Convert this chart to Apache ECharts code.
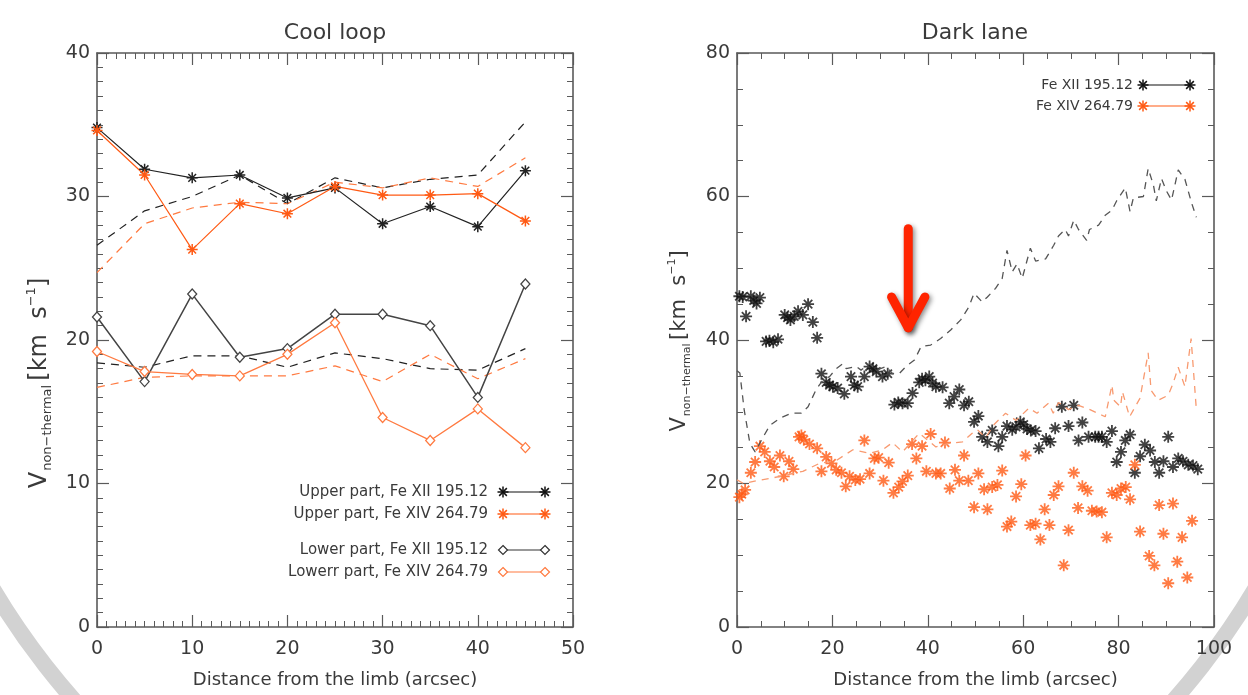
<!DOCTYPE html>
<html><head><meta charset="utf-8">
<script src="https://cdn.jsdelivr.net/npm/echarts@6/dist/echarts.min.js"></script>
<style>html,body{margin:0;padding:0;background:#fff}#c{width:1248px;height:695px}</style>
</head><body><div id="c"></div>
<script>
// ---------- Cool loop (left panel) ----------
const coolX = [0,5,10,15,20,25,30,35,40,45];
const upperFe12 = [34.8,31.9,31.3,31.5,29.9,30.6,28.1,29.3,27.9,31.8];
const upperFe14 = [34.6,31.5,26.3,29.5,28.8,30.7,30.1,30.1,30.2,28.3];
const upperFe12Dash = [26.6,29.0,30.0,31.5,29.5,31.3,30.6,31.2,31.5,35.2];
const upperFe14Dash = [24.7,28.1,29.2,29.6,29.5,31.0,30.6,31.3,30.7,32.7];
const lowerFe12 = [21.6,17.1,23.2,18.8,19.4,21.8,21.8,21.0,16.0,23.9];
const lowerFe14 = [19.2,17.8,17.6,17.5,19.0,21.2,14.6,13.0,15.2,12.5];
const lowerFe12Dash = [18.4,18.1,18.9,18.9,18.1,19.1,18.7,18.0,17.9,19.4];
const lowerFe14Dash = [16.7,17.4,17.5,17.5,17.5,18.2,17.1,19.0,17.3,18.7];
const coolLegend = ['Upper part, Fe XII 195.12','Upper part, Fe XIV 264.79','Lower part, Fe XII 195.12','Lowerr part, Fe XIV 264.79'];

// ---------- Dark lane (right panel) : [distance, velocity] ----------
const darkFe12 = [[0.5,46.1],[1.2,46.0],[1.9,43.3],[2.9,46.1],[3.5,45.5],[4.1,45.1],[4.8,45.9],[6.1,39.8],[6.8,39.9],[7.6,39.7],[8.6,40.1],[10.0,43.5],[10.6,43.1],[11.2,42.8],[12.0,43.3],[12.8,44.0],[13.8,43.5],[14.9,45.0],[15.9,42.5],[16.8,40.3],[17.7,35.3],[18.7,34.1],[19.4,33.7],[20.1,33.5],[21.1,33.3],[22.5,32.5],[23.9,34.9],[24.6,33.7],[25.3,33.5],[26.7,34.9],[27.8,36.3],[28.5,36.0],[29.2,35.6],[30.5,34.9],[31.6,35.3],[33.0,31.0],[33.8,31.3],[34.7,31.2],[35.8,31.2],[36.8,32.6],[38.2,34.1],[38.8,34.6],[39.5,34.4],[40.3,34.9],[41.0,34.0],[41.7,33.5],[43.1,33.4],[44.5,31.2],[45.5,32.1],[46.6,33.1],[47.6,30.9],[48.6,31.4],[49.7,28.6],[50.6,29.4],[51.4,26.5],[52.5,25.8],[53.5,27.4],[54.8,25.2],[55.6,26.5],[56.6,28.0],[57.7,27.5],[58.5,27.9],[59.4,28.6],[60.1,28.2],[60.8,27.6],[61.6,27.4],[62.6,27.3],[63.3,24.9],[64.8,26.2],[65.7,25.8],[66.7,27.7],[68.1,30.7],[69.5,28.0],[70.6,30.9],[71.6,26.0],[72.4,28.5],[73.7,26.5],[75.1,26.5],[75.8,26.5],[76.5,26.5],[77.5,25.8],[78.6,27.3],[79.6,23.0],[80.5,24.4],[81.4,26.0],[82.4,26.8],[83.4,21.5],[84.5,23.8],[85.5,25.4],[86.6,24.6],[87.6,23.0],[88.5,21.5],[89.4,23.1],[90.4,26.5],[91.4,22.3],[92.5,23.5],[93.5,23.1],[94.6,22.6],[95.6,22.5],[96.6,22.0]];
const darkFe14 = [[0.5,18.1],[1.0,18.5],[1.7,19.1],[2.9,21.5],[3.8,23.0],[4.8,25.2],[5.8,24.4],[6.9,23.1],[7.8,22.3],[9.0,23.9],[9.8,21.0],[10.9,23.1],[11.8,22.0],[13.0,26.5],[13.5,26.7],[14.0,26.1],[15.2,25.5],[16.8,24.9],[17.7,21.7],[18.7,23.7],[19.8,22.8],[20.8,21.9],[21.9,21.5],[22.8,19.6],[23.6,21.0],[24.8,20.5],[25.8,20.6],[26.7,26.0],[27.8,21.4],[28.8,23.5],[29.7,23.6],[30.7,20.4],[31.8,22.9],[32.8,18.7],[33.9,19.5],[34.7,20.3],[35.8,21.1],[36.7,25.5],[37.6,23.5],[38.8,25.2],[39.7,21.7],[40.6,26.9],[41.7,21.4],[42.7,21.4],[43.6,25.7],[44.6,19.3],[45.7,21.9],[46.6,20.4],[47.6,23.9],[48.5,20.4],[49.7,16.7],[50.6,21.4],[51.8,19.2],[52.5,16.4],[53.5,19.5],[54.6,19.8],[55.6,21.8],[56.6,14.0],[57.5,14.7],[58.5,18.2],[59.6,19.9],[60.5,23.9],[61.5,14.2],[62.6,14.4],[63.6,12.2],[64.5,16.4],[65.5,14.2],[66.4,18.4],[67.4,19.6],[68.5,8.6],[69.5,13.5],[70.6,21.5],[71.5,16.6],[72.4,19.6],[73.5,19.0],[74.4,16.2],[75.4,16.1],[76.5,16.0],[77.5,12.5],[78.6,18.7],[79.6,18.4],[80.5,19.3],[81.5,19.5],[82.4,17.8],[83.4,22.6],[84.5,13.3],[86.4,9.9],[87.5,8.6],[88.5,17.0],[89.4,13.0],[90.4,6.1],[91.4,17.2],[92.3,9.1],[93.3,12.5],[94.4,6.9],[95.4,14.8]];
const darkFe12Dash = [[0,35.7],[0.6,35.4],[1.5,30.3],[2.7,25.6],[3.8,24.4],[5.5,26.5],[6.9,28.1],[9.0,29.1],[11.4,29.8],[13.5,29.8],[14.9,30.7],[16.6,33.1],[18.0,34.4],[19.4,34.9],[20.8,36.0],[22.2,36.7],[22.9,36.0],[25.0,36.3],[26.0,35.8],[27.8,36.7],[29.2,35.8],[31.3,36.3],[32.6,35.3],[34.0,35.3],[35.4,36.3],[37.2,37.2],[38.6,39.1],[40.6,39.3],[42.7,40.2],[44.8,41.4],[46.9,42.8],[48.6,44.6],[49.7,46.5],[51.4,45.3],[52.5,46.0],[54.2,47.2],[55.6,48.6],[56.6,52.5],[57.7,49.5],[58.7,50.6],[59.8,48.6],[61.5,52.8],[62.6,51.0],[64.7,51.3],[66.4,53.2],[67.4,54.5],[68.8,55.4],[69.5,54.5],[70.6,56.7],[71.6,55.4],[73.3,53.9],[73.9,55.4],[75.8,56.0],[77.2,57.4],[78.6,58.1],[79.6,59.4],[81.4,61.2],[82.4,57.9],[83.1,59.8],[85.2,60.0],[86.2,63.9],[87.3,61.6],[87.9,59.4],[89.0,62.5],[90.0,60.8],[91.1,59.5],[92.5,63.7],[93.9,62.4],[95.3,59.1],[96.3,57.1]];
const darkFe14Dash = [[0,20.5],[1.4,20.0],[4.1,20.4],[6.9,20.7],[10.4,21.2],[13.8,21.7],[17.3,22.8],[20.8,23.2],[24.3,24.7],[27.8,24.2],[30.5,24.7],[32.6,25.7],[34.7,24.4],[38.2,27.0],[41.7,25.1],[44.5,25.6],[47.3,25.8],[49.3,27.0],[50.4,27.5],[52.1,26.4],[54.0,28.3],[56.3,29.8],[58.5,28.8],[61.2,30.5],[62.9,29.8],[65.3,31.2],[66.3,29.8],[67.4,31.3],[69.5,30.3],[71.6,30.9],[74.0,30.3],[77.2,29.3],[78.6,33.7],[79.0,31.6],[80.4,30.7],[80.8,32.8],[82.3,29.3],[84.5,31.9],[86.2,38.2],[86.8,33.0],[88.3,31.6],[90.4,32.3],[91.4,33.9],[92.5,36.2],[93.9,33.5],[95.2,40.2],[96.3,30.3]];
const darkLegend = ['Fe XII 195.12','Fe XIV 264.79'];
// arrow annotation (data coords): x, shaft top, tip, arm level, arm half-width
const arrowPos = [35.9, 55.5, 41.7, 46.0, 3.5];

const FONT = 'DejaVu Sans';
const TXT = '#3a3a3a';
const BLACK = '#111';
const ORANGE = '#ff5a14';
const ORANGE_L = '#ff7a40';
const AXC = '#5a5a5a';
const AST = 'path://M10,0L10,20M0,10L20,10M3,3L17,17M3,17L17,3';

const pairs = (xs, ys) => xs.map((x, i) => [x, ys[i]]);

function axis(gridIndex, position, min, max, interval, split, showLabel, name) {
  const isY = position === 'left' || position === 'right';
  return {
    type: 'value', gridIndex, position, min, max, interval,
    axisLine: { show: true, onZero: false, lineStyle: { color: AXC, width: 1.6 } },
    axisTick: { show: true, inside: true, length: 12, lineStyle: { color: AXC, width: 1.2 } },
    minorTick: { show: true, splitNumber: split, length: 6, lineStyle: { color: AXC, width: 1 } },
    splitLine: { show: false }, minorSplitLine: { show: false },
    axisLabel: { show: showLabel, fontFamily: FONT, fontSize: 19, color: TXT, margin: isY ? 7 : 13 },
    name: name || '', nameLocation: 'middle', nameGap: 44,
    nameTextStyle: { fontFamily: FONT, fontSize: 18, color: TXT }
  };
}

function lineSeries(data, color, symbol, dashed, width) {
  const s = {
    type: 'line', xAxisIndex: 0, yAxisIndex: 0, data, z: 3,
    lineStyle: { color, width: width || 1.3, type: dashed ? [8, 6] : 'solid' },
    symbol: symbol || 'none', showSymbol: !!symbol, silent: true
  };
  if (symbol === AST) { s.symbolSize = 11; s.itemStyle = { color, borderColor: color, borderWidth: 1.5 }; }
  else if (symbol === 'diamond') { s.symbolSize = [9, 10]; s.itemStyle = { color: '#fff', borderColor: color, borderWidth: 1.3 }; }
  return s;
}

const chart = echarts.init(document.getElementById('c'), null, { renderer: 'canvas' });

const option = {
  animation: false,
  backgroundColor: '#fff',
  grid: [
    { left: 97, top: 53, width: 476, height: 574 },
    { left: 737, top: 53, width: 477, height: 574 }
  ],
  xAxis: [
    axis(0, 'bottom', 0, 50, 10, 10, true, 'Distance from the limb (arcsec)'),
    axis(0, 'top', 0, 50, 10, 10, false),
    axis(1, 'bottom', 0, 100, 20, 4, true, 'Distance from the limb (arcsec)'),
    axis(1, 'top', 0, 100, 20, 4, false)
  ],
  yAxis: [
    axis(0, 'left', 0, 40, 10, 10, true),
    axis(0, 'right', 0, 40, 10, 10, false),
    axis(1, 'left', 0, 80, 20, 4, true),
    axis(1, 'right', 0, 80, 20, 4, false)
  ],
  series: [
    lineSeries(pairs(coolX, upperFe12Dash), '#222', null, true, 1.2),
    lineSeries(pairs(coolX, upperFe14Dash), ORANGE_L, null, true, 1.2),
    lineSeries(pairs(coolX, lowerFe12Dash), '#222', null, true, 1.2),
    lineSeries(pairs(coolX, lowerFe14Dash), ORANGE_L, null, true, 1.2),
    lineSeries(pairs(coolX, upperFe12), '#222', AST, false, 1.2),
    lineSeries(pairs(coolX, upperFe14), ORANGE, AST, false, 1.2),
    lineSeries(pairs(coolX, lowerFe12), '#444', 'diamond', false, 1.5),
    lineSeries(pairs(coolX, lowerFe14), ORANGE_L, 'diamond', false, 1.3),
    {
      type: 'line', xAxisIndex: 2, yAxisIndex: 2, data: darkFe12Dash, symbol: 'none', silent: true,
      lineStyle: { color: '#555', width: 1.3, type: [7, 6] }
    },
    {
      type: 'line', xAxisIndex: 2, yAxisIndex: 2, data: darkFe14Dash, symbol: 'none', silent: true,
      lineStyle: { color: '#f89a70', width: 1.3, type: [7, 6] }
    },
    {
      type: 'scatter', xAxisIndex: 2, yAxisIndex: 2, data: darkFe12, symbol: AST, symbolSize: 12, silent: true,
      itemStyle: { color: BLACK, borderColor: BLACK, borderWidth: 1.8 }
    },
    {
      type: 'scatter', xAxisIndex: 2, yAxisIndex: 2, data: darkFe14, symbol: AST, symbolSize: 12, silent: true,
      itemStyle: { color: ORANGE, borderColor: ORANGE, borderWidth: 1.8 }
    }
  ]
};
chart.setOption(option);

// ---------- decorations ----------
function asterisk(x, y, r, color, w) {
  const d = r * 0.7;
  return {
    type: 'group', children: [
      { type: 'line', shape: { x1: x, y1: y - r, x2: x, y2: y + r }, style: { stroke: color, lineWidth: w } },
      { type: 'line', shape: { x1: x - r, y1: y, x2: x + r, y2: y }, style: { stroke: color, lineWidth: w } },
      { type: 'line', shape: { x1: x - d, y1: y - d, x2: x + d, y2: y + d }, style: { stroke: color, lineWidth: w } },
      { type: 'line', shape: { x1: x - d, y1: y + d, x2: x + d, y2: y - d }, style: { stroke: color, lineWidth: w } }
    ]
  };
}
function diamond(x, y, r, color) {
  return { type: 'polygon', shape: { points: [[x, y - r], [x + r, y], [x, y + r], [x - r, y]] }, style: { fill: '#fff', stroke: color, lineWidth: 1.2 } };
}
function legendRow(label, y, textRight, x1, x2, color, kind, fs) {
  const items = [
    { type: 'text', x: textRight, y: y, style: { text: label, fontFamily: FONT, fontSize: fs, fill: TXT, align: 'right', verticalAlign: 'middle' } },
    { type: 'line', shape: { x1, y1: y, x2, y2: y }, style: { stroke: color, lineWidth: 1.2 } }
  ];
  if (kind === 'ast') { items.push(asterisk(x1, y, 5.5, color, 1.5), asterisk(x2, y, 5.5, color, 1.5)); }
  else { items.push(diamond(x1, y, 4.5, color), diamond(x2, y, 4.5, color)); }
  return { type: 'group', children: items };
}
function yLabel(cx, cy, big, small) {
  return {
    type: 'text', x: cx, y: cy, rotation: Math.PI / 2,
    style: {
      text: '{v|V}{s|non−thermal}{g| }{b|[km  s}{p|−1}{b|]}',
      align: 'center', verticalAlign: 'middle', fill: TXT,
      rich: {
        v: { fontFamily: FONT, fontSize: big, fill: TXT, lineHeight: big + 5 },
        s: { fontFamily: FONT, fontSize: small, fill: TXT, verticalAlign: 'bottom', lineHeight: small + 3, padding: [0, 0, 0, 1] },
        g: { fontFamily: FONT, fontSize: small, lineHeight: big + 5 },
        b: { fontFamily: FONT, fontSize: big, fill: TXT, lineHeight: big + 5 },
        p: { fontFamily: FONT, fontSize: small, fill: TXT, verticalAlign: 'top', lineHeight: small + 3 }
      }
    }
  };
}

const g1 = (x, y) => chart.convertToPixel({ gridIndex: 1 }, [x, y]);
const aTop = g1(arrowPos[0], arrowPos[1]);
const aTip = g1(arrowPos[0], arrowPos[2]);
const aL = g1(arrowPos[0] - arrowPos[4], arrowPos[3]);
const aR = g1(arrowPos[0] + arrowPos[4], arrowPos[3]);
const arrowStyle = { stroke: '#ff2400', lineWidth: 9, lineCap: 'round', lineJoin: 'round', shadowBlur: 5, shadowColor: 'rgba(0,0,0,0.45)', shadowOffsetX: 2, shadowOffsetY: 2, fill: null };
const deg = Math.PI / 180;

chart.setOption({
  graphic: [
    { type: 'arc', z: -10, shape: { cx: 624, cy: 214, r: 734, startAngle: 122 * deg, endAngle: 162 * deg }, style: { stroke: '#d2d2d2', lineWidth: 16, fill: null } },
    { type: 'arc', z: -10, shape: { cx: 624, cy: 214, r: 734, startAngle: 18 * deg, endAngle: 58 * deg }, style: { stroke: '#d2d2d2', lineWidth: 16, fill: null } },
    { type: 'text', x: 335, y: 33, style: { text: 'Cool loop', fontFamily: FONT, fontSize: 22, fill: TXT, align: 'center', verticalAlign: 'middle' } },
    { type: 'text', x: 975, y: 33, style: { text: 'Dark lane', fontFamily: FONT, fontSize: 22, fill: TXT, align: 'center', verticalAlign: 'middle' } },
    yLabel(40, 383, 24, 13),
    yLabel(680, 341, 21, 11),
    legendRow(coolLegend[0], 492, 488, 503, 545, BLACK, 'ast', 15),
    legendRow(coolLegend[1], 514, 488, 503, 545, ORANGE, 'ast', 15),
    legendRow(coolLegend[2], 550, 488, 503, 545, '#333', 'dia', 15),
    legendRow(coolLegend[3], 572, 488, 503, 545, ORANGE_L, 'dia', 15),
    legendRow(darkLegend[0], 85, 1133, 1143, 1190, BLACK, 'ast', 14),
    legendRow(darkLegend[1], 106, 1133, 1143, 1190, ORANGE, 'ast', 14),
    { type: 'polyline', z: 20, shape: { points: [aTop, aTip] }, style: arrowStyle },
    { type: 'polyline', z: 20, shape: { points: [aL, aTip, aR] }, style: arrowStyle }
  ]
});
</script>
</body></html>
